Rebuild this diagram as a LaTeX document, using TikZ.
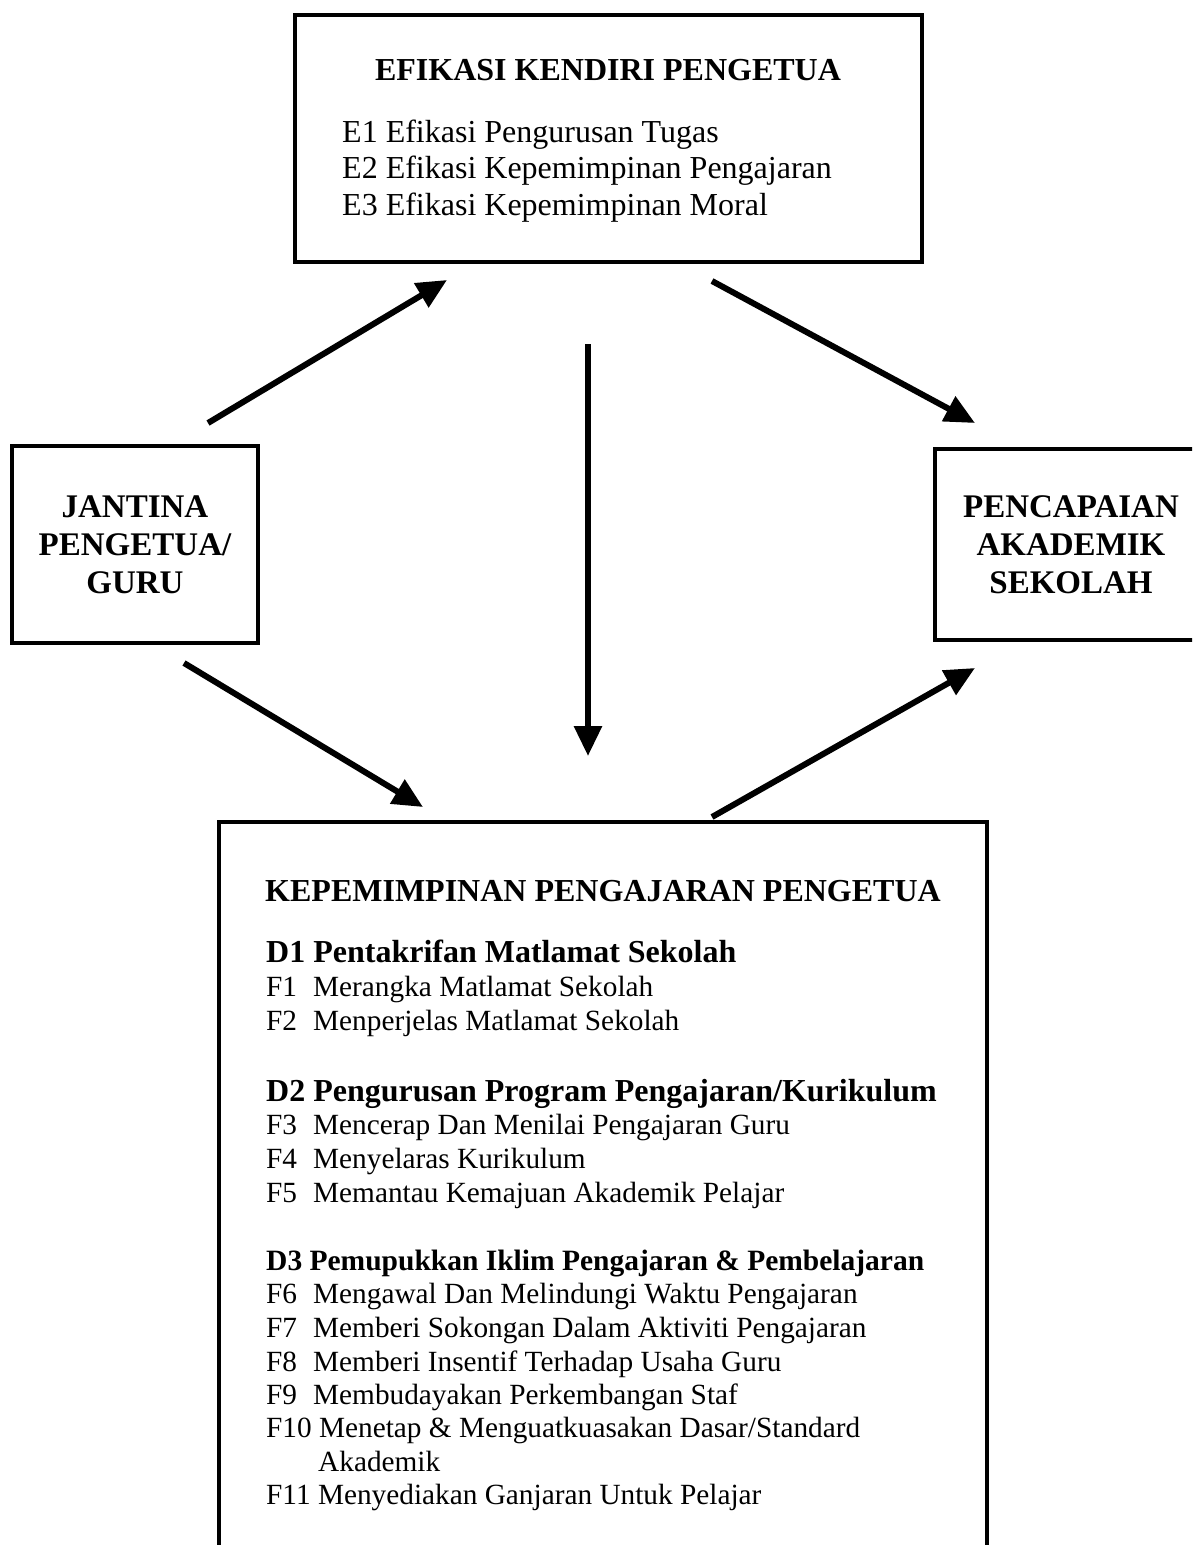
\documentclass[tikz,border=0pt]{standalone}
\usepackage{fontspec}
\setmainfont{Liberation Serif}
\usetikzlibrary{arrows.meta}

\tikzset{
  frame/.style={draw=black, line width=4.5pt, rectangle, inner sep=0pt},
  link/.style={line width=6pt, -{Triangle[length=30pt,width=27pt]}},
  txt/.style={inner sep=0pt, anchor=base west},
  ctxt/.style={inner sep=0pt, anchor=base},
}
\newcommand{\fsz}[2]{\fontsize{#1}{#2}\selectfont}
\newcommand{\flabel}[2]{\makebox[47pt][l]{#1}#2}

\begin{document}
\begin{tikzpicture}[x=1pt,y=-1pt]
\fill[white] (0,0) rectangle (1192,1545);
\useasboundingbox (0,0) rectangle (1192,1545);
\clip (0,0) rectangle (1192,1545);

% ---- boxes ----
\node[frame, minimum width=627pt, minimum height=247pt] (efikasi) at (608.5,138.5) {};
\node[frame, minimum width=246pt, minimum height=197pt, align=center,
      font=\fsz{33}{38}\bfseries] (jantina) at (135,544.5) {JANTINA\\PENGETUA/\\GURU};
\node[frame, minimum width=272pt, minimum height=191pt, align=center,
      font=\fsz{33}{38}\bfseries] (pencapaian) at (1071,544.5) {PENCAPAIAN\\AKADEMIK\\SEKOLAH};
\node[frame, minimum width=768pt, minimum height=760pt] (kepimpinan) at (603,1202) {};

% ---- top box text ----
\node[ctxt, font=\fsz{32}{36}\bfseries] (efT) at (608,80) {EFIKASI KENDIRI PENGETUA};
\begin{scope}[every node/.style={txt, font=\fsz{32}{36}}]
\node (e1) at (342,142) {E1 Efikasi Pengurusan Tugas};
\node (e2) at (342,178.5) {E2 Efikasi Kepemimpinan Pengajaran};
\node (e3) at (342,215) {E3 Efikasi Kepemimpinan Moral};
\end{scope}

% ---- bottom box text ----
\node[ctxt, font=\fsz{32}{36}\bfseries] (kpT) at (603,901) {KEPEMIMPINAN PENGAJARAN PENGETUA};

\begin{scope}[every node/.style={txt, font=\fsz{29.3}{33}}]
\node[font=\fsz{32}{36}\bfseries] (d1) at (266,962) {D1 Pentakrifan Matlamat Sekolah};
\node (f1) at (266,996) {\flabel{F1}{Merangka Matlamat Sekolah}};
\node (f2) at (266,1030) {\flabel{F2}{Menperjelas Matlamat Sekolah}};

\node[font=\fsz{32}{36}\bfseries] (d2) at (266,1101) {D2 Pengurusan Program Pengajaran/Kurikulum};
\node (f3) at (266,1134) {\flabel{F3}{Mencerap Dan Menilai Pengajaran Guru}};
\node (f4) at (266,1168) {\flabel{F4}{Menyelaras Kurikulum}};
\node (f5) at (266,1202) {\flabel{F5}{Memantau Kemajuan Akademik Pelajar}};

\node[font=\fsz{29.5}{34}\bfseries] (d3) at (266,1270) {D3 Pemupukkan Iklim Pengajaran \& Pembelajaran};
\node (f6) at (266,1303) {\flabel{F6}{Mengawal Dan Melindungi Waktu Pengajaran}};
\node (f7) at (266,1337) {\flabel{F7}{Memberi Sokongan Dalam Aktiviti Pengajaran}};
\node (f8) at (266,1371) {\flabel{F8}{Memberi Insentif Terhadap Usaha Guru}};
\node (f9) at (266,1404) {\flabel{F9}{Membudayakan Perkembangan Staf}};
\node (f10) at (266,1437) {F10 Menetap \& Menguatkuasakan Dasar/Standard};
\node (f10b) at (318,1471) {Akademik};
\node (f11) at (266,1504) {F11 Menyediakan Ganjaran Untuk Pelajar};
\end{scope}

% ---- connectors ----
\coordinate (jUp)   at (208,423);
\coordinate (eIn)   at (447,280);
\coordinate (eDown) at (588,344);
\coordinate (kIn)   at (588,756);
\coordinate (eOut)  at (712,281);
\coordinate (pInT)  at (975,423);
\coordinate (jDown) at (184,663);
\coordinate (kInL)  at (423,807);
\coordinate (kOut)  at (712,817);
\coordinate (pInB)  at (975,668);

\draw[link] (jUp) -- (eIn);
\draw[link] (eDown) -- (kIn);
\draw[link] (eOut) -- (pInT);
\draw[link] (jDown) -- (kInL);
\draw[link] (kOut) -- (pInB);
\end{tikzpicture}
\end{document}
